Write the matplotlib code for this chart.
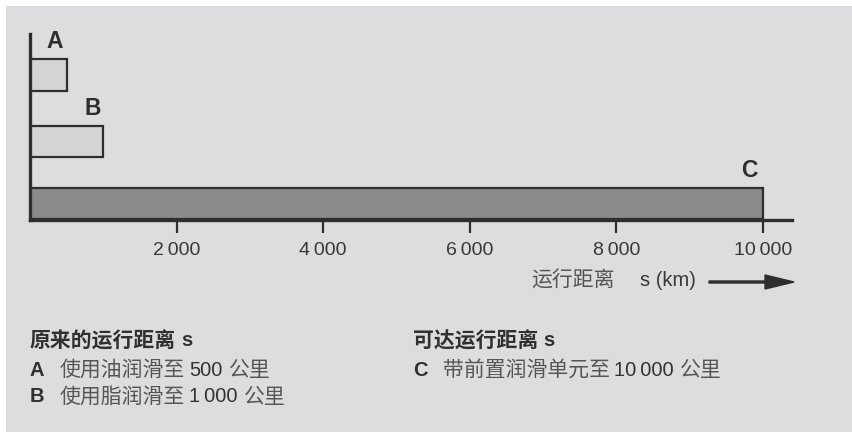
import matplotlib
matplotlib.use("Agg")
import matplotlib.pyplot as plt
from matplotlib.patches import Rectangle, FancyArrow

# Data
labels = ["A", "B", "C"]
distances = [500, 1000, 10000]            # km
tick_values = [2000, 4000, 6000, 8000, 10000]
tick_labels = ["2\u2009000", "4\u2009000", "6\u2009000", "8\u2009000", "10\u2009000"]
axis_title = "运行距离"
axis_unit = "s (km)"
left_head = ("原来的运行距离", "s")
left_items = [("A", "使用油润滑至", "500", "公里"), ("B", "使用脂润滑至", "1\u2009000", "公里")]
right_head = ("可达运行距离", "s")
right_items = [("C", "带前置润滑单元至", "10\u2009000", "公里")]

W, H = 852, 432
BG = "#dcdddf"
DARK = "#2e2e30"
GREY_TXT = "#555557"
LATIN = ["Liberation Sans", "DejaVu Sans"]
CJK = ["Noto Sans CJK SC", "DejaVu Sans"]

fig = plt.figure(figsize=(W / 100, H / 100), dpi=100, facecolor=BG)
# thin white margin along the top and left edges
fig.patches.append(Rectangle((0, 0), 6 / W, 1, transform=fig.transFigure,
                             facecolor="white", edgecolor="none", zorder=-5))
fig.patches.append(Rectangle((0, 1 - 6 / H), 1, 6 / H, transform=fig.transFigure,
                             facecolor="white", edgecolor="none", zorder=-5))

# axes spans pixel x 30..792, y 34..220 (from top)
x0, x1, ytop, ybot = 30, 792, 34, 220
ax = fig.add_axes([x0 / W, 1 - ybot / H, (x1 - x0) / W, (ybot - ytop) / H])
ax.set_facecolor("none")
px_per_km = (763 - 30) / 10000
ax.set_xlim(0, (x1 - x0) / px_per_km)
ax.set_ylim(ybot, ytop)  # vertical layout units, top-down

# bar layout: (center, height)
bar_layout = [(75, 32), (141.5, 31), (203.5, 31)]
faces = ["#d3d4d6", "#d3d4d6", "#8a8b8d"]
label_dx = [-170, -150, -190]
for (yc, h), d, fc, lab, dx in zip(bar_layout, distances, faces, labels, label_dx):
    ax.barh(yc, d, height=h, color=fc, edgecolor=DARK, linewidth=1.6, zorder=2)
    ax.text(d + dx, yc - h / 2 - 6, lab, ha="center", va="bottom", fontsize=16.5,
            fontweight="bold", color=DARK, family=LATIN)

for s in ["top", "right"]:
    ax.spines[s].set_visible(False)
for s in ["left", "bottom"]:
    ax.spines[s].set_color(DARK)
    ax.spines[s].set_linewidth(2.4)
    ax.spines[s].set_zorder(3)
ax.set_yticks([])
ax.set_xticks(tick_values)
ax.set_xticklabels(tick_labels, family=LATIN, fontsize=14, color="#38383a")
ax.tick_params(axis="x", direction="out", length=9, width=1.6, color=DARK, pad=7)

renderer = fig.canvas.get_renderer()


def run_line(xpx, ypx, runs):
    """Place text runs one after another; each run is (text, props, gap_after_px)."""
    x = xpx
    for txt, props, gap in runs:
        t = fig.text(x / W, 1 - ypx / H, txt, ha="left", va="center", **props)
        bb = t.get_window_extent(renderer)
        x = bb.x1 + gap


def p_cjk(bold=False, color=GREY_TXT):
    return dict(family=CJK, fontsize=15, color=color,
                fontweight="bold" if bold else "normal")


def p_lat(bold=False, color="#333335"):
    return dict(family=LATIN, fontsize=14.5, color=color,
                fontweight="bold" if bold else "normal")


# axis title with arrow
run_line(531, 281, [(axis_title, p_cjk(), 26), (axis_unit, p_lat(color="#38383a"), 0)])
fig.patches.append(FancyArrow(709 / W, 1 - 282 / H, 85 / W, 0, width=2.0 / H,
                              head_width=14 / H, head_length=29 / W,
                              length_includes_head=True, transform=fig.transFigure,
                              color=DARK, zorder=3))


def block(xpx, head, items):
    run_line(xpx, 341, [(head[0], p_cjk(True, "#303032"), 5),
                        (head[1], p_lat(True, "#303032"), 0)])
    for i, (k, cj, num, unit) in enumerate(items):
        y = 370 + 27 * i
        run_line(xpx, y, [(k, p_lat(True, "#303032"), 0)])
        run_line(xpx + 30, y, [(cj, p_cjk(), 4), (num, p_lat(), 6), (unit, p_cjk(), 0)])


block(30, left_head, left_items)
block(413, right_head, right_items)

fig.savefig("out.png", dpi=100, facecolor=BG)
